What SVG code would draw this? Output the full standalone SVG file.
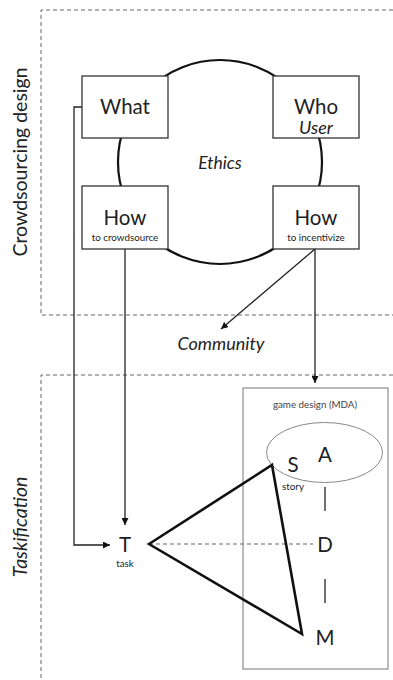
<svg xmlns="http://www.w3.org/2000/svg" width="393" height="680" viewBox="0 0 393 680">
<style>
text{font-family:Lato,"Open Sans","Liberation Sans",sans-serif;fill:#222;text-anchor:middle}
.big{font-size:20.5px}
.sm{font-size:9.8px}
.it{font-style:italic}
.box{fill:#fff;stroke:#333;stroke-width:1.3}
.ln{fill:none;stroke:#222;stroke-width:1.3}
.region{fill:none;stroke:#555;stroke-width:0.9;stroke-dasharray:4 3}
</style>
<defs>
<marker id="ah" viewBox="0 0 10 10" refX="10" refY="5" markerWidth="7" markerHeight="7" orient="auto" markerUnits="userSpaceOnUse">
<path d="M0,0 L10,5 L0,10 z" fill="#111"/>
</marker>
</defs>
<g id="regions">
<path class="region" d="M393,10 H41 V315 H393"/>
<path class="region" d="M393,375 H41 V680"/>
<text transform="translate(27,162) rotate(-90)" font-size="19.5">Crowdsourcing design</text>
<text class="it" transform="translate(27,527) rotate(-90)" font-size="19.5">Taskification</text>
</g>
<g id="ethics">
<circle cx="220" cy="162" r="102" fill="#fff" stroke="#111" stroke-width="2.2"/>
<text class="it" x="220" y="169" font-size="17.5">Ethics</text>
</g>
<g id="connectors">
<polyline class="ln" points="82,107 74,107 74,545 110,545" marker-end="url(#ah)"/>
<line class="ln" x1="125" y1="249" x2="125" y2="525" marker-end="url(#ah)"/>
<line class="ln" x1="315" y1="249" x2="221" y2="329" marker-end="url(#ah)"/>
<line class="ln" x1="315" y1="249" x2="315" y2="383" marker-end="url(#ah)"/>
<line x1="149" y1="544" x2="313" y2="544" stroke="#999" stroke-width="1.3" stroke-dasharray="4 3"/>
</g>
<g id="what">
<rect class="box" x="82" y="76" width="86" height="62"/>
<text class="big" x="125" y="114">What</text>
</g>
<g id="who">
<rect class="box" x="273" y="76" width="86" height="62"/>
<text class="big" x="316" y="114">Who</text>
<text class="it" x="316" y="134" font-size="18">User</text>
</g>
<g id="how-crowdsource">
<rect class="box" x="82" y="186" width="86" height="63"/>
<text class="big" x="125" y="225">How</text>
<text class="sm" x="125" y="241">to crowdsource</text>
</g>
<g id="how-incentivize">
<rect class="box" x="273" y="186" width="86" height="63"/>
<text class="big" x="316" y="225">How</text>
<text class="sm" x="316" y="241">to incentivize</text>
</g>
<g id="community">
<text class="it" x="221" y="350" font-size="18">Community</text>
</g>
<g id="game-design">
<rect x="243" y="388" width="145" height="281" fill="none" stroke="#777" stroke-width="1"/>
<text class="sm" x="315" y="408" style="fill:#444">game design (MDA)</text>
<ellipse cx="324.5" cy="452.5" rx="58" ry="30" fill="none" stroke="#888" stroke-width="1"/>
<text class="big" x="325" y="462">A</text>
<line class="ln" x1="325" y1="487" x2="325" y2="511"/>
<text class="big" x="325" y="552">D</text>
<line class="ln" x1="325" y1="579" x2="325" y2="603"/>
<text class="big" x="325" y="645">M</text>
<text class="big" x="293" y="472">S</text>
<text class="sm" x="293" y="490">story</text>
</g>
<g id="task">
<text class="big" x="125" y="552">T</text>
<text class="sm" x="125" y="567">task</text>
</g>
<g id="triangle">
<polygon points="149,544 272,465 302,634" fill="none" stroke="#111" stroke-width="2.6" stroke-linejoin="miter"/>
</g>
</svg>
